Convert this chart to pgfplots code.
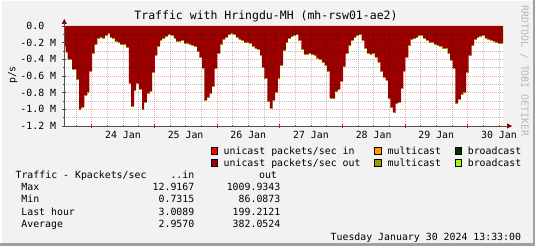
\documentclass[border=0pt]{standalone}
\usepackage{fontspec}
\setmainfont{DejaVu Sans Mono}
\usepackage{pgfplots}
\usepackage{pgfplotstable}
\pgfplotsset{compat=1.18}
\usetikzlibrary{arrows.meta}
\definecolor{bgc}{HTML}{F2F2F2}
\definecolor{bordark}{HTML}{A0A0A0}
\definecolor{outred}{HTML}{990000}
\definecolor{inred}{HTML}{FF0000}
\definecolor{inorange}{HTML}{FF9900}
\definecolor{indkgreen}{HTML}{003300}
\definecolor{outolive}{HTML}{999900}
\definecolor{outlgreen}{HTML}{99FF00}
\definecolor{axisgray}{HTML}{505050}
\definecolor{arrowred}{HTML}{800000}
\definecolor{wmgray}{HTML}{B8B8B8}
\newcommand{\sz}{\fontsize{9.88}{11}\selectfont}
\pgfplotstableread{
h v
-10.45 -0.24
-9.9 -0.316
-9.2 -0.396
-7.5 -0.516
-5.85 -0.636
-4.8 -1.0
-3.94 -0.975
-2.79 -0.832
-1.64 -0.792
-0.88 -0.54
0.2 -0.332
1.16 -0.224
2.18 -0.152
3.2 -0.132
4.1 -0.144
5.1 -0.112
6.13 -0.092
7.02 -0.132
7.91 -0.152
8.93 -0.18
9.95 -0.2
10.97 -0.216
13.26 -0.26
14.28 -0.692
15.17 -0.96
16.32 -0.772
17.08 -0.692
18.23 -0.76
19.38 -1.004
20.14 -0.912
21.16 -0.812
22.18 -0.784
23.2 -0.552
24.2 -0.352
25.2 -0.24
26.25 -0.172
27.0 -0.144
28.3 -0.12
29.3 -0.104
30.3 -0.11
31.5 -0.152
32.4 -0.18
34.4 -0.172
35.4 -0.204
37.2 -0.22
38.2 -0.232
39.3 -0.244
40.4 -0.304
41.3 -0.372
42.3 -0.504
43.2 -0.892
44.2 -0.852
45.2 -0.812
46.1 -0.72
47.1 -0.512
48.2 -0.332
49.3 -0.224
50.2 -0.16
51.2 -0.132
52.2 -0.104
53.2 -0.092
54.3 -0.104
55.3 -0.132
56.3 -0.16
57.3 -0.176
58.3 -0.192
59.4 -0.2
60.4 -0.208
61.4 -0.24
62.4 -0.264
63.4 -0.28
64.5 -0.352
65.2 -0.5
66.2 -0.624
67.3 -0.904
68.3 -0.992
69.3 -0.892
70.3 -0.8
71.3 -0.632
72.1 -0.472
73.3 -0.292
74.4 -0.2
75.2 -0.152
76.3 -0.128
77.3 -0.112
78.2 -0.104
79.2 -0.172
80.3 -0.28
81.3 -0.34
83.1 -0.332
84.1 -0.34
85.1 -0.352
86.1 -0.384
87.1 -0.4
88.2 -0.432
89.2 -0.472
90.2 -0.544
91.2 -0.864
92.2 -0.872
93.3 -0.784
94.3 -0.764
95.3 -0.664
96.3 -0.484
97.3 -0.332
98.4 -0.232
99.4 -0.172
100.4 -0.132
101.4 -0.112
102.4 -0.104
103.4 -0.172
104.5 -0.272
105.5 -0.332
106.5 -0.34
107.5 -0.332
108.5 -0.372
109.5 -0.432
110.6 -0.544
111.6 -0.612
112.6 -0.652
113.6 -0.872
114.4 -0.972
115.4 -1.032
116.4 -0.932
117.4 -0.912
118.5 -0.752
119.4 -0.54
120.2 -0.38
121.3 -0.232
122.2 -0.16
123.2 -0.144
124.2 -0.132
125.1 -0.112
126.1 -0.112
127.0 -0.144
128.1 -0.172
129.2 -0.2
130.2 -0.2
131.2 -0.224
132.2 -0.232
133.2 -0.24
134.3 -0.264
135.3 -0.272
136.3 -0.332
137.3 -0.412
138.3 -0.512
139.3 -0.932
140.4 -0.88
141.4 -0.824
142.4 -0.8
143.4 -0.56
144.4 -0.352
145.5 -0.232
146.5 -0.16
147.5 -0.132
148.5 -0.128
149.5 -0.112
150.6 -0.144
151.6 -0.16
152.6 -0.172
153.6 -0.184
154.6 -0.2
155.7 -0.212
157.55 -0.212
}\outdata
\begin{document}
\begin{tikzpicture}[x=1pt,y=1pt]
\fill[bgc] (0,0) rectangle (535,246);
\fill[white] (0,0) rectangle (1.5,246);
\fill[white] (0,244.5) rectangle (535,246);
\fill[bordark] (533,0) rectangle (535,246);
\fill[bordark] (0,0) rectangle (535,2.5);
\useasboundingbox (0,0) rectangle (535,246);
\begin{axis}[
  at={(64.3pt,120pt)}, anchor=south west,
  scale only axis, width=438.7pt, height=100pt,
  xmin=-10.45, xmax=157.55, ymin=-1.2, ymax=0,
  axis background/.style={fill=white},
  axis on top,
  axis lines=left,
  axis line style={draw=axisgray, line width=0.6pt},
  x axis line style={-{Triangle[length=5pt,width=5pt,color=arrowred]}, shorten >=-9pt},
  y axis line style={-{Triangle[length=5pt,width=5pt,color=arrowred]}, shorten >=-7pt},
  xtick={0,24,48,72,96,120,144},
  xticklabels={,,,,,,},
  minor xtick={-6,6,12,18,30,36,42,54,60,66,78,84,90,102,108,114,126,132,138,150,156},
  extra x ticks={12,36,60,84,108,132,156},
  extra x tick labels={24 Jan,25 Jan,26 Jan,27 Jan,28 Jan,29 Jan,30 Jan},
  extra x tick style={grid=none, major tick length=0pt,
    xticklabel style={anchor=base, inner sep=0pt, yshift=-13pt}},
  ytick={-1.2,-1,-0.8,-0.6,-0.4,-0.2,0},
  yticklabels={-1.2 M,-1.0 M,-0.8 M,-0.6 M,-0.4 M,-0.2 M,0.0\hphantom{MM}},
  minor y tick num=1,
  tick label style={font=\sz, text=black},
  yticklabel style={anchor=east, inner sep=0pt, xshift=-6pt},
  tick align=center,
  major tick length=4pt, minor tick length=2pt,
  tick style={draw=axisgray, line width=0.5pt},
  x tick style={draw=red},
  grid=both,
  major grid style={draw=red, opacity=0.35, dash pattern=on 1pt off 1pt, line width=0.7pt},
  minor grid style={draw=black, opacity=0.25, dash pattern=on 1pt off 1pt, line width=0.7pt},
]
\addplot[const plot mark left, fill=outred, draw=none] table[x=h,y=v] {\outdata} \closedcycle;
\addplot[jump mark left, draw=outolive, line width=0.45pt] table[x=h,y=v] {\outdata};
\end{axis}
% title, labels
\node[font=\fontsize{11.5}{13}\selectfont] at (266,229.3) {Traffic with Hringdu-MH (mh-rsw01-ae2)};
\node[font=\sz, rotate=90] at (12.7,171) {p/s};
\node[font=\sz, rotate=-90, text=wmgray] at (524.5,175) {RRDTOOL / TOBI OETIKER};
% legend
\foreach \yc/\yb/\ca/\cb/\cc/\la in {95.5/91.9/inred/inorange/indkgreen/in, 83.3/79.7/outred/outolive/outlgreen/out}{
  \filldraw[fill=\ca, draw=black, line width=0.5pt] (210.8,\yc-3.3) rectangle (217.4,\yc+3.3);
  \filldraw[fill=\cb, draw=black, line width=0.5pt] (374.6,\yc-3.3) rectangle (381.2,\yc+3.3);
  \filldraw[fill=\cc, draw=black, line width=0.5pt] (454.8,\yc-3.3) rectangle (461.4,\yc+3.3);
  \node[font=\sz, anchor=base west, inner sep=0pt] at (223.5,\yb) {unicast packets/sec \la};
  \node[font=\sz, anchor=base west, inner sep=0pt] at (387.4,\yb) {multicast};
  \node[font=\sz, anchor=base west, inner sep=0pt] at (467.6,\yb) {broadcast};
}
% table
\node[font=\sz, anchor=base west, inner sep=0pt] at (15.4,67.9) {Traffic - Kpackets/sec};
\node[font=\sz, anchor=base east, inner sep=0pt] at (194.5,67.9) {..in};
\node[font=\sz, anchor=base east, inner sep=0pt] at (277.1,67.9) {out};
\foreach \yb/\lab/\vin/\vout in {55.6/Max/12.9167/1009.9343, 43/Min/0.7315/86.0873, 30.7/Last hour/3.0089/199.2121, 18.5/Average/2.9570/382.0524}{
  \node[font=\sz, anchor=base west, inner sep=0pt] at (21.2,\yb) {\lab};
  \node[font=\sz, anchor=base east, inner sep=0pt] at (194.5,\yb) {\vin};
  \node[font=\sz, anchor=base east, inner sep=0pt] at (280.5,\yb) {\vout};
}
\node[font=\sz, anchor=base east, inner sep=0pt] at (521.2,5.8) {Tuesday January 30 2024 13:33:00};
\end{tikzpicture}
\end{document}
